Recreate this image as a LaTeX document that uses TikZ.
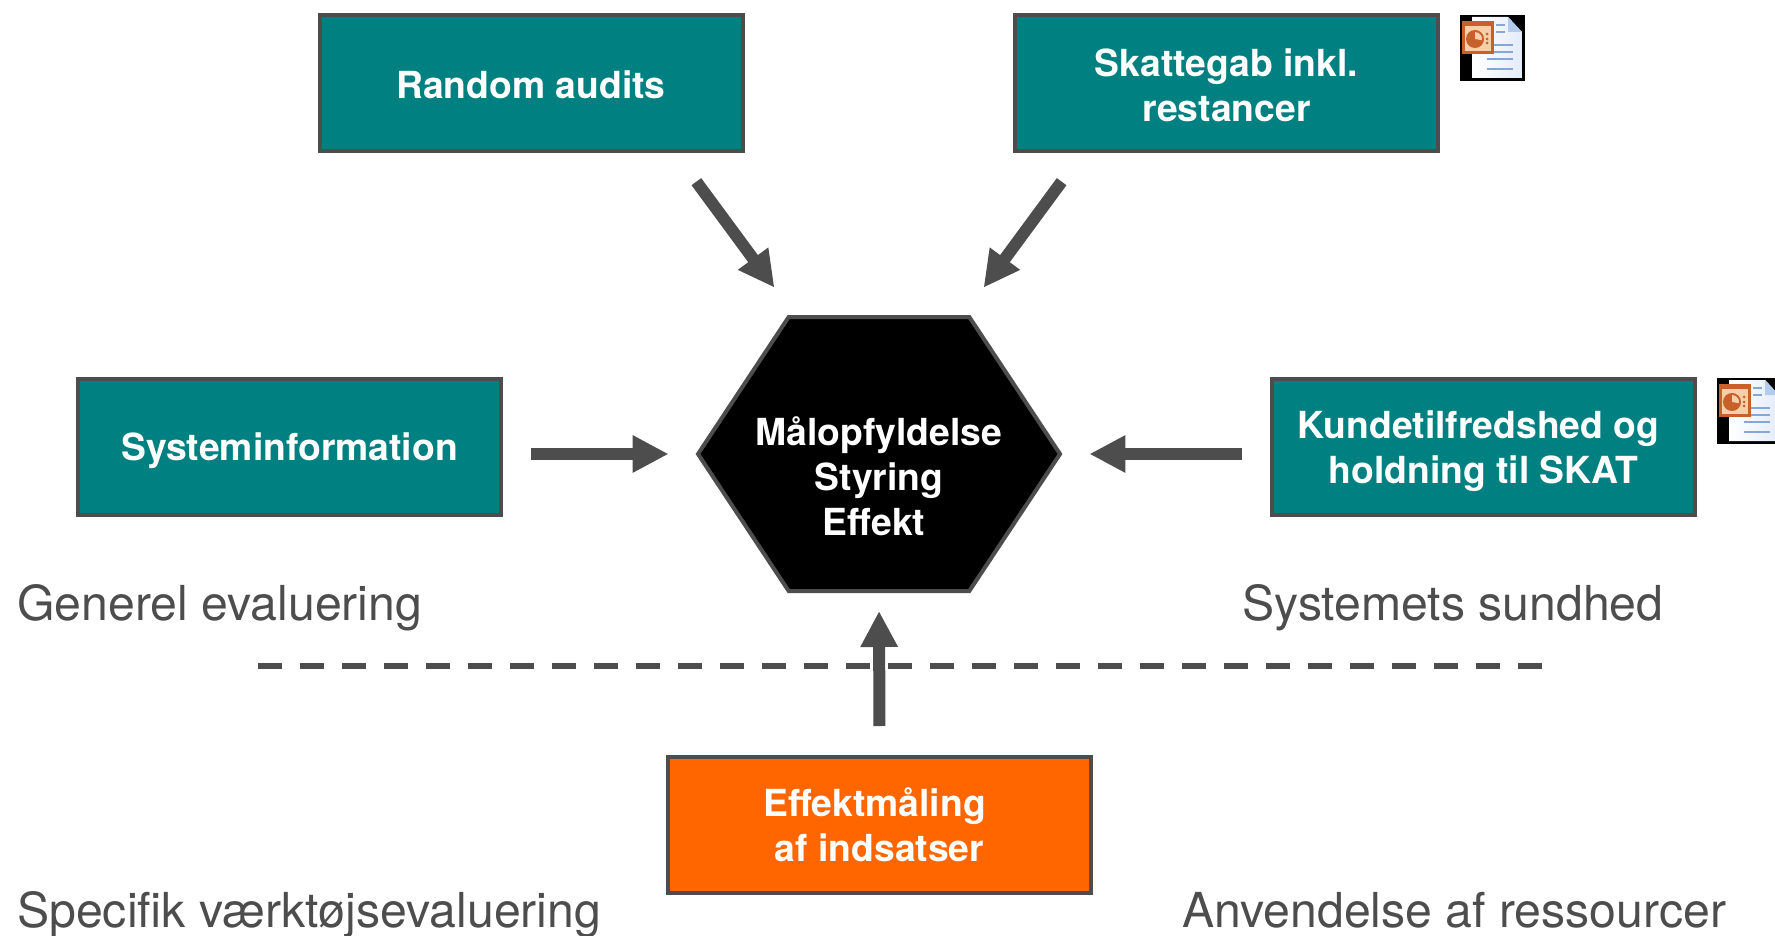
\documentclass[tikz,border=0pt]{standalone}
\usepackage{fontspec}
\setmainfont{TeX Gyre Heros}
\definecolor{dngra}{HTML}{4D4D4D}
\definecolor{dnteal}{HTML}{008080}
\definecolor{dnorange}{HTML}{FF6600}
\definecolor{dnpage}{HTML}{E4ECFA}
\definecolor{dnfold}{HTML}{B4CCEC}
\definecolor{dnline}{HTML}{86A6D4}
\definecolor{dnppt}{HTML}{C8602C}
\definecolor{dnpeach}{HTML}{F4CFA8}
\usetikzlibrary{calc,arrows.meta,shapes.symbols,positioning}
\begin{document}
\begin{tikzpicture}[x=1pt,y=-1pt]%
		\tikzset{
			ppticon/.pic={
				\fill[black] (0,0) rectangle (65,66);
				\fill[left color=white,right color=dnpage] (12,2)--(48,2)--(62,17)--(62,63)--(12,63)--cycle;
				\fill[dnfold] (48,2)--(62,17)--(48,17)--cycle;
				\foreach \g in{10,17}{%
					\draw[dnline,line width=1.5pt] (36,\g)--(45,\g);
				}
				\foreach \g in{30,37,44,54}{%
					\draw[dnline,line width=1.5pt] (27,\g)--(53,\g);
				}
				\fill[dnppt] (2,6) rectangle (34,39);
				\fill[dnpeach] (5,11) rectangle (31,36);
				\fill[dnppt] (15,24) circle (9);
				\fill[dnpeach] (15,24)--++(-90:7) arc (-90:10:7)--cycle;
				\foreach \g in{19,24,28}{%
					\fill[dnppt] (27,\g) circle (1.5);
				}
				%%
			},
			boxteal/.style={draw=dngra,line width=4pt,fill=dnteal,minimum width=423pt,minimum height=136pt,inner sep=0pt,align=center,text depth=0pt,text=white,font=\fontsize{37.3}{45}\selectfont\bfseries},
			boxorange/.style={boxteal,fill=dnorange},
			hexastyle/.style={draw=dngra,line width=4pt,fill=black,inner sep=0pt,signal,signal to=west and east,signal pointer angle=113,minimum width=362pt,minimum height=274pt},
			hexatext/.style={inner sep=0pt,align=center,text=white,font=\fontsize{37.3}{45}\selectfont\bfseries},
			bigarrow/.style={draw=dngra,line width=12pt,-{Triangle[width=35pt,length=36pt]}},
			stylefont/.style={anchor=base west,inner sep=0pt,text=dngra,font=\fontsize{48.2}{50}\selectfont}
		}
		\clip (0,0) rectangle (1775,936);
		%%%Vẽ the boxes
		\path (531,83.5) node[boxteal,text height=30pt] (random) {Random audits};
		\path (1226.5,83.5) node[boxteal,text height=76pt] (skat) {Skattegab inkl.\\restancer};
		\path (289.5,446.5) node[boxteal] (sys) {Systeminformation};
		\path (1483.5,446.5) node[boxteal,text height=74.5pt] (kunde) {Kundetilfredshed og\hspace*{10pt}\\holdning til SKAT};
		\path (879.5,825) node[boxorange] (effekt) {Effektmåling\hspace*{10pt}\\af indsatser};
		%%%Vẽ the hexagon
		\path (879,454) node[hexastyle] (maal) {};
		\path (maal.center) node[hexatext,yshift=-22pt] (maaltext) {Målopfyldelse\\Styring\\Effekt\hspace*{10pt}};
		%%%Vẽ the icons
		\path (1460,15) pic {ppticon};
		\path (1717,378) pic {ppticon};
		%%%Vẽ the dashed line
		\coordinate (dashA) at (258,666);
		\coordinate (dashB) at (1543,666);
		\draw[dngra,line width=6pt,dash pattern=on 24pt off 18pt] (dashA)--(dashB);
		%%%Vẽ the arrows
		\draw[bigarrow,shorten <=35pt,shorten >=34pt] ([xshift=144.6pt]random.south)--([xshift=-84.4pt]maal.north);
		\draw[bigarrow,shorten <=35pt,shorten >=34pt] ([xshift=-144.1pt]skat.south)--([xshift=84.4pt]maal.north);
		\draw[bigarrow,shorten <=28pt,shorten >=27pt] ([yshift=-7.5pt]sys.east)--(maal.west);
		\draw[bigarrow,shorten <=28pt,shorten >=27pt] ([yshift=-7.5pt]kunde.west)--(maal.east);
		\draw[bigarrow,shorten <=29pt,shorten >=18pt] (effekt.north)--(maal.south);
		%%%Vẽ the labels
		\path (17,620) node[stylefont] (generel) {Generel evaluering};
		\path (1242,620) node[stylefont] (sundhed) {Systemets sundhed};
		\path (17,927) node[stylefont] (specifik) {Specifik værktøjsevaluering};
		\path (1182,927) node[stylefont] (ressourcer) {Anvendelse af ressourcer};
	\end{tikzpicture}
\end{document}
